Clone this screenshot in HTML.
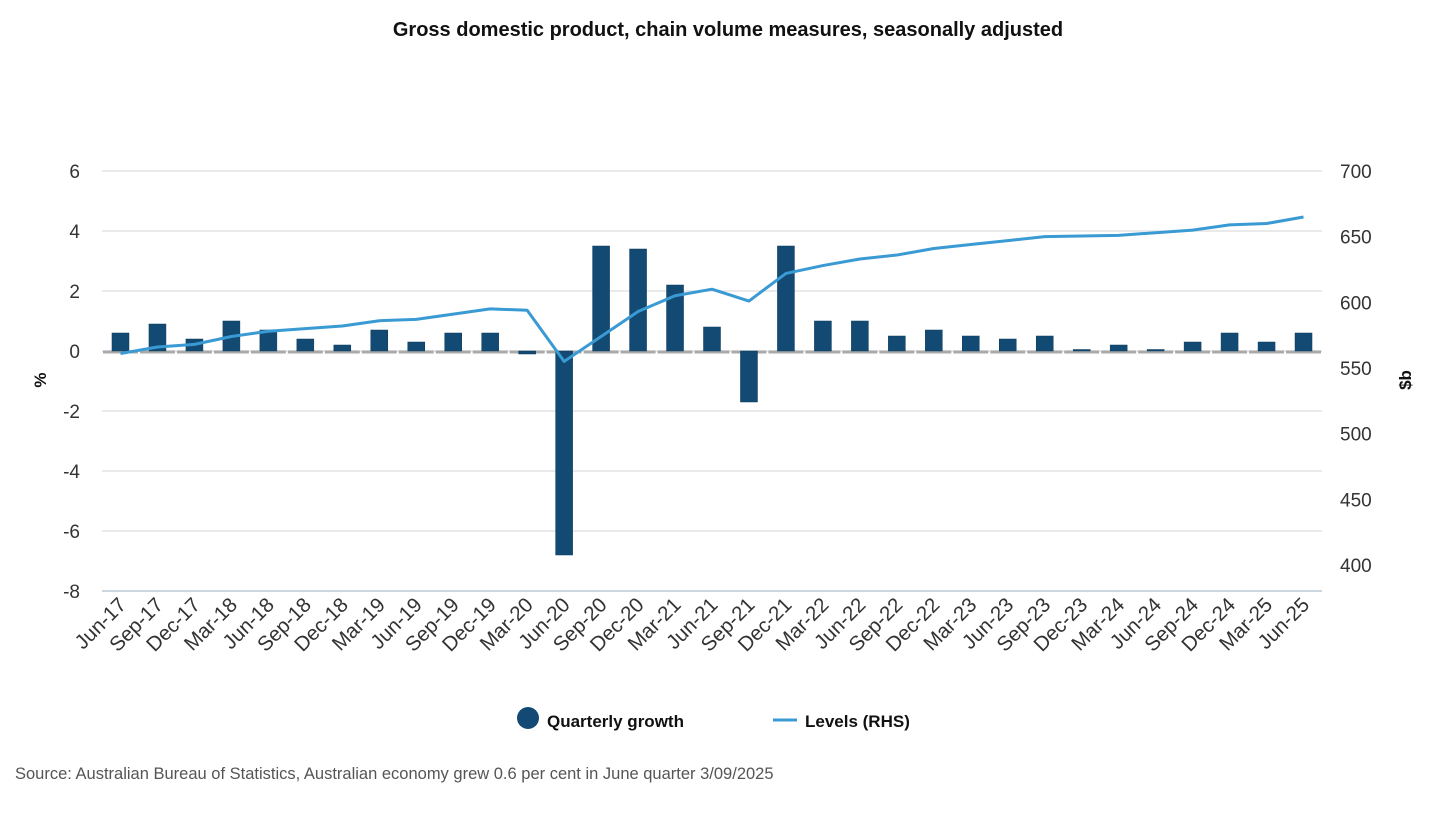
<!DOCTYPE html>
<html><head><meta charset="utf-8"><style>
body{margin:0;background:#fff;font-family:"Liberation Sans",sans-serif}
svg text{font-family:"Liberation Sans",sans-serif}
</style></head><body>
<svg id="chart" width="1456" height="809" xmlns="http://www.w3.org/2000/svg">
<text x="728" y="36" text-anchor="middle" font-size="20" font-weight="bold" fill="#111">Gross domestic product, chain volume measures, seasonally adjusted</text>
<g id="grid"></g><g id="bars"></g><g id="line"></g><g id="xlabels"></g>
<text transform="translate(46,380) rotate(-90)" text-anchor="middle" font-size="17" font-weight="bold" fill="#111">%</text>
<text transform="translate(1411,380) rotate(-90)" text-anchor="middle" font-size="17" font-weight="bold" fill="#111">$b</text>
<g>
<circle cx="528" cy="718" r="11" fill="#134a73"/>
<text x="547" y="727" font-size="17" font-weight="bold" fill="#111">Quarterly growth</text>
<line x1="773" y1="720" x2="797" y2="720" stroke="#3a9ad3" stroke-width="3"/>
<text x="805" y="727" font-size="17" font-weight="bold" fill="#111">Levels (RHS)</text>
</g>
<text x="15" y="779" font-size="16.5" fill="#555">Source: Australian Bureau of Statistics, Australian economy grew 0.6 per cent in June quarter 3/09/2025</text>
</svg>
<script>
const categories=["Jun-17","Sep-17","Dec-17","Mar-18","Jun-18","Sep-18","Dec-18","Mar-19","Jun-19","Sep-19","Dec-19","Mar-20","Jun-20","Sep-20","Dec-20","Mar-21","Jun-21","Sep-21","Dec-21","Mar-22","Jun-22","Sep-22","Dec-22","Mar-23","Jun-23","Sep-23","Dec-23","Mar-24","Jun-24","Sep-24","Dec-24","Mar-25","Jun-25"];
const growth=[0.6,0.9,0.4,1.0,0.7,0.4,0.2,0.7,0.3,0.6,0.6,-0.1,-6.8,3.5,3.4,2.2,0.8,-1.7,3.5,1.0,1.0,0.5,0.7,0.5,0.4,0.5,0.05,0.2,0.05,0.3,0.6,0.3,0.6];
const levels=[561,566,568,574,578,580,582,586,587,591,595,594,555,574,593,605,610,601,622,628,633,636,641,644,647,650,650.5,651,653,655,659,660,665];
const leftTicks=[6,4,2,0,-2,-4,-6,-8];
const rightTicks=[700,650,600,550,500,450,400];
const NS="http://www.w3.org/2000/svg";
const X0=102,X1=1322,band=(X1-X0)/categories.length;
const yL=v=>351-v*30;
const yR=v=>171+(700-v)*(394/300);
const xc=i=>X0+band*(i+0.5);
function mk(tag,attrs,parent,txt){const e=document.createElementNS(NS,tag);for(const k in attrs)e.setAttribute(k,attrs[k]);if(txt!==undefined)e.textContent=txt;parent.appendChild(e);return e;}
const grid=document.getElementById('grid');
leftTicks.forEach(t=>{
 const l=mk('line',{x1:X0,x2:X1,y1:yL(t),y2:yL(t),stroke:t===-8?'#ccd6e0':'#e3e3e3','stroke-width':t===-8?2:1.5},grid);
 
 
 const tx=mk('text',{x:80,y:yL(t)+7,'text-anchor':'end','font-size':19,fill:'#333'},grid,String(t));
 
 
});
rightTicks.forEach(t=>{
 const tx=mk('text',{x:1340,y:yR(t)+7,'font-size':19,fill:'#333'},grid,String(t));
 
 
});
const bars=document.getElementById('bars');
const bw=17;
categories.forEach((c,i)=>{
 const z=mk('line',{x1:X0+band*i+1,x2:X0+band*(i+1)-1,y1:yL(0)+1,y2:yL(0)+1,stroke:'#aaa','stroke-width':3},bars);
 
 
});
growth.forEach((v,i)=>{
 const y0=yL(0),y1=yL(v);
 const r=mk('rect',{x:xc(i)-bw/2,y:Math.min(y0,y1),width:bw,height:Math.max(1.5,Math.abs(y1-y0)),fill:'#134a73',stroke:'#0d3a5c','stroke-width':0.5},bars);
 
 
});
const pts=levels.map((v,i)=>xc(i)+','+yR(v)).join(' ');
const pl=mk('polyline',{points:pts,fill:'none',stroke:'#3a9ad3','stroke-width':3,'stroke-linejoin':'round'},document.getElementById('line'));


const xl=document.getElementById('xlabels');
categories.forEach((c,i)=>{
 const x=xc(i)+7,y=606;
 const t=mk('text',{x:x,y:y,'text-anchor':'end','font-size':20.5,fill:'#333',transform:`rotate(-45 ${x} ${y})`},xl,c);
 
 
});
</script>
</body></html>
